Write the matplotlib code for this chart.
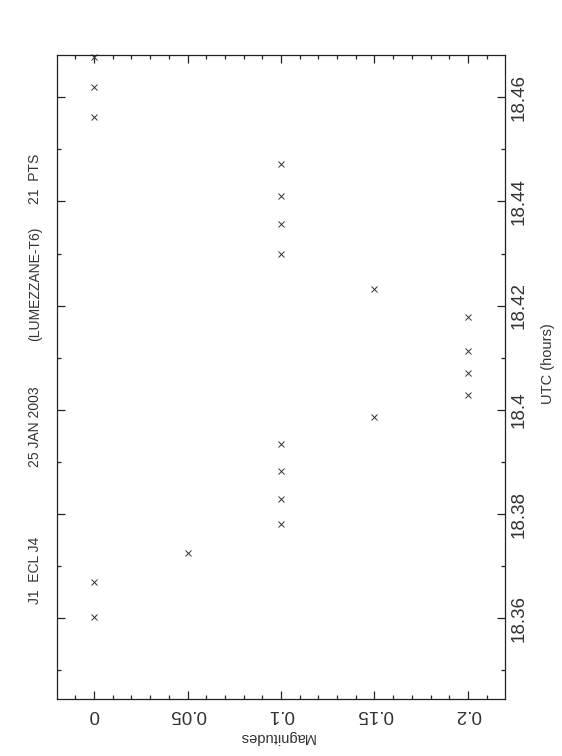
import matplotlib
matplotlib.use('Agg')
import matplotlib.pyplot as plt
from matplotlib.ticker import MultipleLocator, FuncFormatter

# Light curve points: UTC (hours) and magnitude differences
utc_hours = [18.3602, 18.3669, 18.3725, 18.3781, 18.3829, 18.3882, 18.3934,
             18.3986, 18.4028, 18.4070, 18.4113, 18.4178, 18.4232, 18.4299,
             18.4356, 18.4410, 18.4471, 18.4562, 18.4619, 18.4677]
magnitudes = [0.0, 0.0, 0.05, 0.1, 0.1, 0.1, 0.1,
              0.15, 0.2, 0.2, 0.2, 0.2, 0.15, 0.1,
              0.1, 0.1, 0.1, 0.0, 0.0, 0.0]

header_parts = ['J1  ECL J4', '25 JAN 2003', '(LUMEZZANE-T6)', '21  PTS']

plt.rcParams['font.family'] = ['Liberation Sans', 'DejaVu Sans']
txt_col = '#333333'

fig = plt.figure(figsize=(5.62, 7.56), dpi=100)
ax = fig.add_axes([57 / 562, 1 - 699 / 756, 448 / 562, 644 / 756])

ax.plot(magnitudes, utc_hours, linestyle='none', marker='x', markersize=4.5,
        markeredgewidth=0.7, color='#333333', clip_on=False)

ax.set_xlim(-0.0198, 0.2198)
ax.set_ylim(18.3445, 18.4681)

ax.xaxis.set_major_locator(MultipleLocator(0.05))
ax.xaxis.set_minor_locator(MultipleLocator(0.01))
ax.yaxis.set_major_locator(MultipleLocator(0.02))
ax.yaxis.set_minor_locator(MultipleLocator(0.01))

ax.xaxis.set_major_formatter(FuncFormatter(lambda v, p: ('%.2f' % v).rstrip('0').rstrip('.') if abs(v) > 1e-9 else '0'))
ax.yaxis.set_major_formatter(FuncFormatter(lambda v, p: ('%.2f' % v).rstrip('0').rstrip('.')))

ax.tick_params(which='both', direction='in', top=True, bottom=True, left=True, right=True,
               labelleft=False, labelright=True, width=0.9, color='#222222',
               labelcolor=txt_col)
ax.tick_params(which='major', length=5.5)
ax.tick_params(which='minor', length=2.8)
ax.tick_params(axis='x', labelsize=13.5, labelrotation=180, pad=5)
ax.tick_params(axis='y', labelsize=13.5, labelrotation=90, pad=4)
for lbl in ax.get_yticklabels():
    lbl.set_va('center')

for s in ax.spines.values():
    s.set_linewidth(0.9)
    s.set_color('#222222')

fig.text(277 / 562, 1 - 737 / 756, 'Magnitudes', rotation=180, ha='center', va='center',
         fontsize=10.5, color=txt_col)
fig.text(548 / 562, 1 - 364 / 756, 'UTC (hours)', rotation=90, ha='center', va='center',
         fontsize=10.5, color=txt_col)

header_y = [570, 427, 284, 179]
for txt, yy in zip(header_parts, header_y):
    fig.text(35 / 562, 1 - yy / 756, txt, rotation=90, ha='center', va='center',
             fontsize=10, color=txt_col)

fig.savefig('out.png', dpi=100)
